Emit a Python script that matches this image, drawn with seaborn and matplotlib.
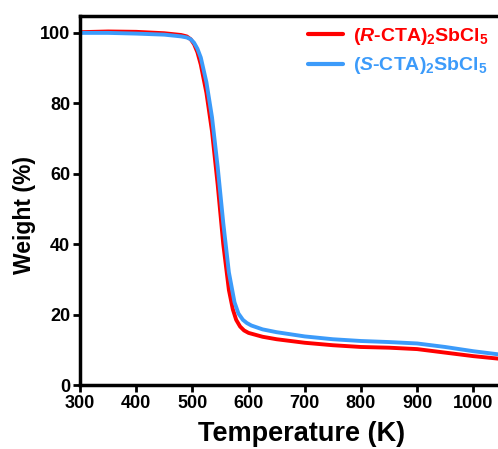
import matplotlib
matplotlib.use('Agg')
import matplotlib.pyplot as plt
import seaborn as sns
import pandas as pd

# temperature (K) and weight (%)
temp_r = [300, 350, 400, 450, 480, 490, 497, 503, 509, 515, 525, 535, 545, 555, 565, 572, 578, 585,
          592, 600, 625, 650, 700, 750, 800, 850, 900, 950, 1000, 1050]
weight_r = [100.2, 100.4, 100.3, 99.9, 99.4, 99.0, 98.2, 96.8, 94.5, 91.0, 83.0, 72.0, 57.0, 40.0, 27.0,
            21.5, 18.5, 16.6, 15.5, 14.8, 13.7, 13.0, 12.0, 11.3, 10.8, 10.6, 10.2, 9.2, 8.2, 7.4]
temp_s = [300, 350, 400, 450, 480, 490, 497, 503, 509, 515, 525, 535, 545, 555, 565, 575, 582, 590,
          597, 605, 625, 650, 700, 750, 800, 850, 900, 950, 1000, 1050]
weight_s = [100.0, 100.0, 99.8, 99.5, 99.0, 98.7, 98.2, 97.2, 95.5, 93.0, 86.0, 76.0, 62.0, 46.0, 32.0,
            23.5, 20.3, 18.5, 17.6, 16.9, 15.8, 15.0, 13.8, 13.0, 12.5, 12.2, 11.8, 10.8, 9.6, 8.6]

label_r = r'($\mathit{R}$-CTA)$_\mathrm{2}$SbCl$_\mathrm{5}$'
label_s = r'($\mathit{S}$-CTA)$_\mathrm{2}$SbCl$_\mathrm{5}$'
x_ticks = [300, 400, 500, 600, 700, 800, 900, 1000]
y_ticks = [0, 20, 40, 60, 80, 100]

sns.set_theme(style='ticks')
plt.rcParams['font.family'] = ['Liberation Sans', 'DejaVu Sans']
plt.rcParams['font.weight'] = 'bold'
plt.rcParams['mathtext.fontset'] = 'custom'
plt.rcParams['mathtext.rm'] = 'Liberation Sans:bold'
plt.rcParams['mathtext.it'] = 'Liberation Sans:bold:italic'
plt.rcParams['mathtext.bf'] = 'Liberation Sans:bold'
for key in ['text.color', 'axes.labelcolor', 'xtick.color', 'ytick.color']:
    plt.rcParams[key] = 'black'

df_r = pd.DataFrame({'T': temp_r, 'W': weight_r})
df_s = pd.DataFrame({'T': temp_s, 'W': weight_s})

fig = plt.figure(figsize=(4.98, 4.49), dpi=100)
# the axes runs past the right edge of the figure, as in the cropped original
ax = fig.add_axes([0.1606, 0.1425, 0.888, 0.8219])

red = '#FF0000'
blue = '#3C9BFA'
sns.lineplot(data=df_r, x='T', y='W', ax=ax, color=red, lw=2.8, label=label_r)
sns.lineplot(data=df_s, x='T', y='W', ax=ax, color=blue, lw=2.8, label=label_s)

ax.set_xlim(300, 1087)
ax.set_ylim(0, 104.8)
ax.set_xticks(x_ticks)
ax.set_yticks(y_ticks)
ax.tick_params(axis='both', direction='out', length=5, width=2, labelsize=13, pad=2)
for t in ax.get_xticklabels() + ax.get_yticklabels():
    t.set_fontweight('bold')

for side in ['left', 'bottom', 'top']:
    ax.spines[side].set_linewidth(2.5)
    ax.spines[side].set_color('black')
ax.spines['right'].set_visible(False)

ax.set_xlabel('Temperature (K)', fontsize=19.5, fontweight='bold', labelpad=7)
ax.set_ylabel('Weight (%)', fontsize=16.5, fontweight='bold')
ax.yaxis.set_label_coords(-0.10, 0.46)

leg = ax.legend(loc='upper right', bbox_to_anchor=(1.0, 0.9644), bbox_transform=fig.transFigure,
                frameon=False, fontsize=14, handlelength=1.8,
                handletextpad=0.5, borderaxespad=0.1, labelspacing=0.45)
for txt, c in zip(leg.get_texts(), [red, blue]):
    txt.set_color(c)
    txt.set_fontweight('bold')
for h in leg.get_lines():
    h.set_linewidth(3)

fig.savefig('out.png', dpi=100)
